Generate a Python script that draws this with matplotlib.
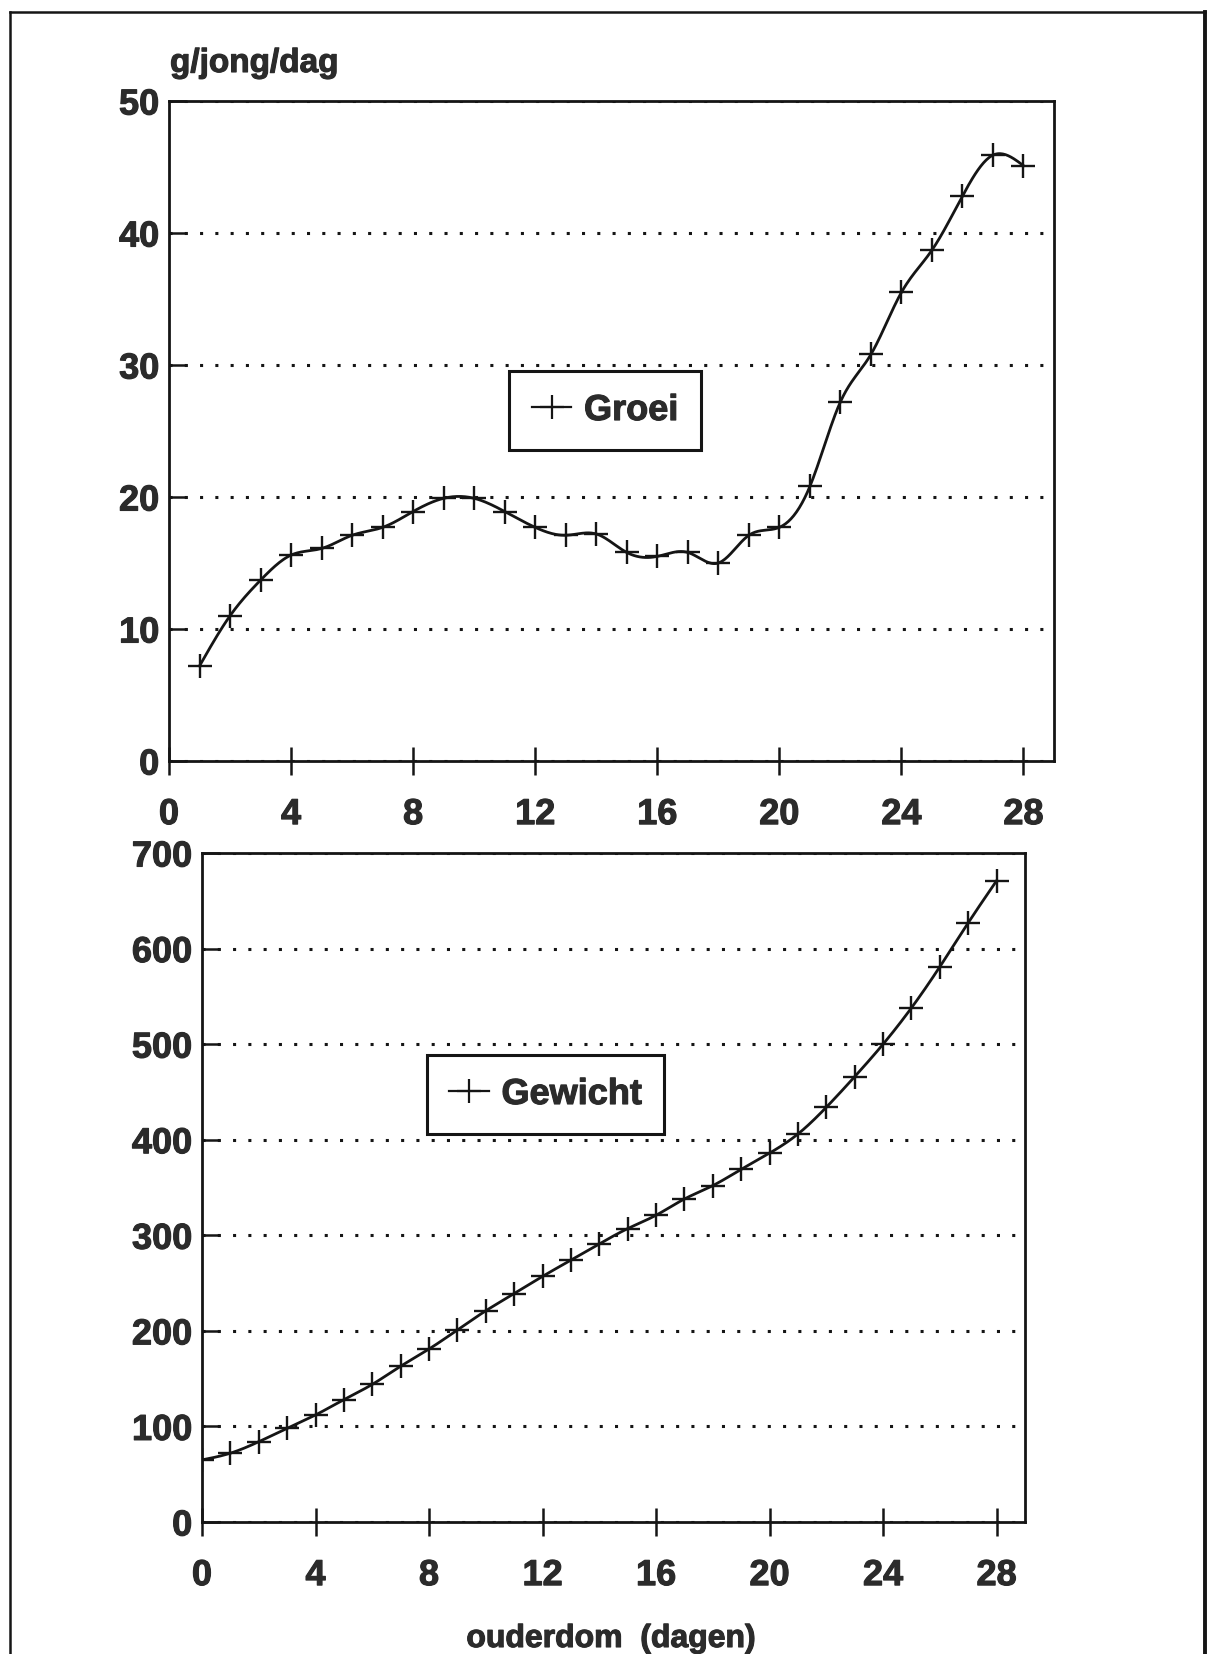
import numpy as np
import matplotlib
matplotlib.use("Agg")
import matplotlib.pyplot as plt
from matplotlib.lines import Line2D
import matplotlib.patheffects as pe

# ---------------- data ----------------
groei_days = [1, 2, 3, 4, 5, 6, 7, 8, 9, 10, 11, 12, 13, 14, 15, 16, 17, 18, 19, 20,
              21, 22, 23, 24, 25, 26, 27, 28]
groei_values = [7.2, 11.0, 13.7, 15.6, 16.1, 17.1, 17.7, 18.9, 19.9, 19.9, 18.9, 17.7,
                17.1, 17.2, 15.8, 15.5, 15.8, 15.0, 17.1, 17.7, 20.8, 27.2, 30.8, 35.5,
                38.7, 42.8, 45.9, 45.1]

gewicht_days = [0, 1, 2, 3, 4, 5, 6, 7, 8, 9, 10, 11, 12, 13, 14, 15, 16, 17, 18, 19, 20,
                21, 22, 23, 24, 25, 26, 27, 28]
gewicht_values = [65, 72, 84, 98, 112, 128, 144, 163, 181, 201, 221, 239, 257, 274, 291,
                  307, 321, 338, 352, 369, 386, 406, 434, 466, 500, 538, 581, 627, 671]

x_ticks = [0, 4, 8, 12, 16, 20, 24, 28]
groei_yticks = [0, 10, 20, 30, 40, 50]
gewicht_yticks = [0, 100, 200, 300, 400, 500, 600, 700]

groei_label = "Groei"
gewicht_label = "Gewicht"
y_unit_label = "g/jong/dag"
x_axis_label = "ouderdom  (dagen)"


# natural cubic spline used only to draw the smooth connecting curve
def smooth_curve(x, y, n=600):
    x = np.asarray(x, float)
    y = np.asarray(y, float)
    m = len(x)
    h = np.diff(x)
    A = np.zeros((m, m))
    b = np.zeros(m)
    A[0, 0] = 1
    A[-1, -1] = 1
    for i in range(1, m - 1):
        A[i, i - 1] = h[i - 1]
        A[i, i] = 2 * (h[i - 1] + h[i])
        A[i, i + 1] = h[i]
        b[i] = 3 * ((y[i + 1] - y[i]) / h[i] - (y[i] - y[i - 1]) / h[i - 1])
    c = np.linalg.solve(A, b)
    xs = np.linspace(x[0], x[-1], n)
    idx = np.clip(np.searchsorted(x, xs) - 1, 0, m - 2)
    dx = xs - x[idx]
    hi = h[idx]
    bb = (y[idx + 1] - y[idx]) / hi - hi * (2 * c[idx] + c[idx + 1]) / 3
    dd = (c[idx + 1] - c[idx]) / (3 * hi)
    ys = y[idx] + bb * dx + c[idx] * dx ** 2 + dd * dx ** 3
    return xs, ys


FONT = ["Liberation Sans", "DejaVu Sans"]
plt.rcParams["font.family"] = FONT
plt.rcParams["font.weight"] = "bold"
TXT = "#2b2b2b"
INK = "#151515"
HEAVY = [pe.withStroke(linewidth=0.8, foreground=TXT)]

W, H = 1208, 1654
fig = plt.figure(figsize=(W / 100, H / 100), dpi=100)
fig.patch.set_facecolor("white")


def px_axes(l, t, r, b):
    return fig.add_axes([l / W, 1 - b / H, (r - l) / W, (b - t) / H])


def style(ax, ymax, yticks):
    ax.set_xlim(0, 29)
    ax.set_ylim(0, ymax)
    ax.set_xticks(x_ticks)
    ax.set_yticks(yticks)
    for s in ax.spines.values():
        s.set_linewidth(2.0)
        s.set_color(INK)
    ax.tick_params(axis="x", direction="inout", length=20, width=1.8, pad=16,
                   labelsize=26, colors=INK, labelcolor=TXT)
    ax.tick_params(axis="y", direction="in", length=13, width=1.8, pad=7,
                   labelsize=26, colors=INK, labelcolor=TXT)
    for lab in ax.get_xticklabels() + ax.get_yticklabels():
        lab.set_fontweight("bold")
        lab.set_path_effects(HEAVY)
    ax.grid(axis="y", color=INK, linestyle=(0, (1, 4)), linewidth=2.2)
    ax.grid(axis="x", visible=False)
    ax.set_axisbelow(True)


def draw_series(ax, xd, yd, label):
    xs, ys = smooth_curve(xd, yd)
    ax.plot(xs, ys, color=INK, linewidth=2.0, zorder=3)
    ax.plot(xd, yd, linestyle="none", marker="+", markersize=17.5,
            markeredgewidth=1.7, color=INK, zorder=4)
    handle = Line2D([], [], color=INK, linewidth=1.6, marker="+", markersize=17,
                    markeredgewidth=1.6)
    return handle


def make_legend(ax, handle, label, anchor):
    leg = ax.legend([handle], [label], loc="center", bbox_to_anchor=anchor,
                    prop={"family": FONT, "weight": "bold", "size": 26},
                    frameon=True, fancybox=False, edgecolor=INK, framealpha=1,
                    borderpad=0.62, handlelength=1.1, handletextpad=0.35,
                    numpoints=1, labelcolor=TXT)
    leg.get_frame().set_linewidth(2.2)
    for t in leg.get_texts():
        t.set_path_effects(HEAVY)
    return leg


# ---------------- top chart ----------------
ax1 = px_axes(169, 101, 1054, 761)
style(ax1, 50, groei_yticks)
h1 = draw_series(ax1, groei_days, groei_values, groei_label)
make_legend(ax1, h1, groei_label, (0.4927, 0.531))

fig.text(170 / W, 1 - 72 / H, y_unit_label, ha="left", va="baseline",
         fontsize=24, fontweight="bold", color=TXT, path_effects=HEAVY)

# ---------------- bottom chart ----------------
ax2 = px_axes(202, 853, 1025, 1522)
style(ax2, 700, gewicht_yticks)
h2 = draw_series(ax2, gewicht_days, gewicht_values, gewicht_label)
make_legend(ax2, h2, gewicht_label, (0.4175, 0.639))

fig.text(611 / W, 1 - 1647 / H, x_axis_label, ha="center", va="baseline",
         fontsize=23, fontweight="bold", color=TXT, path_effects=HEAVY)

# ---------------- outer frame ----------------
frame_kw = dict(color=INK, transform=fig.transFigure)
fig.add_artist(Line2D([10 / W, 10 / W], [1 - 12 / H, 0], linewidth=1.8, **frame_kw))
fig.add_artist(Line2D([1205 / W, 1205 / W], [1 - 12 / H, 0], linewidth=2.8, **frame_kw))
fig.add_artist(Line2D([10 / W, 1205 / W], [1 - 12 / H, 1 - 12 / H], linewidth=1.8, **frame_kw))

fig.savefig("out.png", dpi=100, facecolor="white")
